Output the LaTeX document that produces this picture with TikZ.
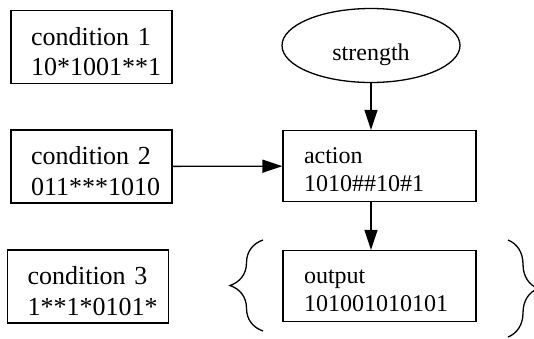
\documentclass[tikz,border=0pt]{standalone}
\usepackage{fontspec}
\setmainfont{Liberation Serif}
\usetikzlibrary{arrows.meta,positioning,shapes.geometric,decorations.pathreplacing}
\tikzset{%
	cond/.style   = {draw, rectangle, text width=60.5pt, inner xsep=10pt, minimum height=36.5pt, align=left, text height=0pt, text depth=2pt, font=\fontsize{13}{15.25}\selectfont}, % Condition
	block/.style  = {draw, rectangle, text width=75.5pt, inner xsep=10.5pt, minimum height=35.5pt, align=left, text height=0pt, text depth=2.9pt, font=\fontsize{12}{14}\selectfont},
	weight/.style = {draw, ellipse, minimum width=89pt, minimum height=37pt, text height=14.5pt, text depth=0pt, font=\fontsize{12}{14}\selectfont}, % Strength
	arrow/.style  = {-{Triangle[length=10pt,width=6.5pt]}},
	curly/.style  = {decorate, decoration={brace, amplitude=#1}},
}

\begin{document}
\begin{tikzpicture}[x=0.5pt,y=-0.5pt,line width=0.65pt]
	\useasboundingbox (0,0) rectangle (534,338);
	\node [cond] (C1) at (91.5,47) {condition 1\\10*1001**1};
	\node [cond] (C2) at (91.5,166.5) {condition 2\\011***1010};
	\node [cond] (C3) at (88,286.5) {condition 3\\1**1*0101*};
	\node [weight] (S) at (371,45.5) {strength};
	\node [block] (A) at (379.5,166) {action\\1010\#\#10\#1};
	\node [block] (O) at (379.5,286) {output\\101001010101};
	
	\draw[arrow] (S) -- (S |- A.north);
	\draw[arrow] (A.south -| S) -- (S |- O.north);
	\draw[arrow] (C2) -- (A);
	
	\draw[curly=16.5pt] (263,331) -- (263,240);
	\draw[curly=15pt] (508,240) -- (508,337);
\end{tikzpicture}
\end{document}
